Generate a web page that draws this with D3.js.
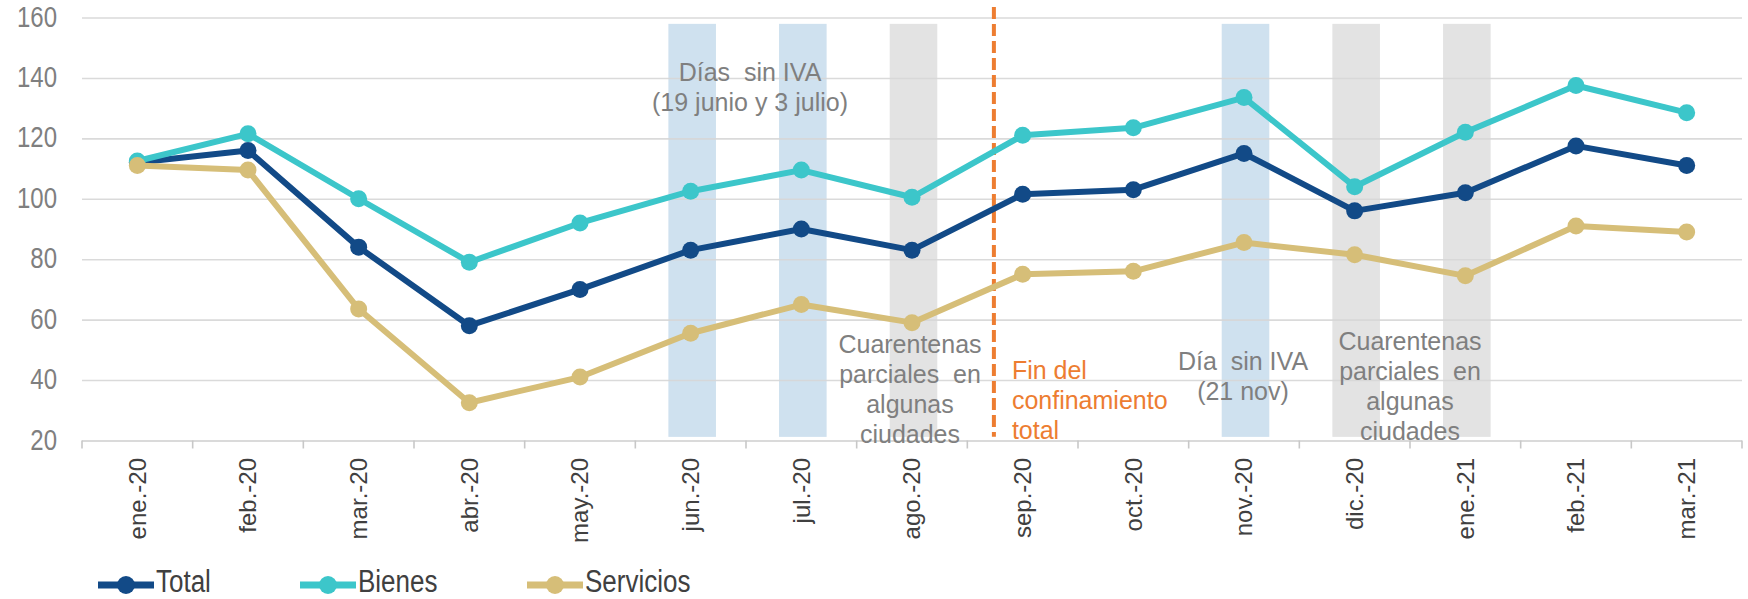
<!DOCTYPE html>
<html>
<head>
<meta charset="utf-8">
<script src="https://cdn.jsdelivr.net/npm/d3@7"></script>
<style>
  html, body { margin: 0; padding: 0; background: #fff; }
  svg { display: block; font-family: "Liberation Sans", Arial, sans-serif; }
</style>
</head>
<body>
<svg id="chart" width="1748" height="599"></svg>
<script>
// ---- data ----
const categories = ["ene.-20","feb.-20","mar.-20","abr.-20","may.-20","jun.-20","jul.-20","ago.-20","sep.-20","oct.-20","nov.-20","dic.-20","ene.-21","feb.-21","mar.-21"];
const total     = [112, 116, 84, 58, 70, 83, 90, 83, 101.5, 103, 115, 96, 102, 117.5, 111];
const bienes    = [112.5, 121.5, 100, 79, 92, 102.5, 109.5, 100.5, 121, 123.5, 133.5, 104, 122, 137.5, 128.5];
const servicios = [111, 109.5, 63.5, 32.5, 41, 55.5, 65, 59, 75, 76, 85.5, 81.5, 74.5, 91, 89];
const yTicks = [20, 40, 60, 80, 100, 120, 140, 160];
const seriesNames = ["Total", "Bienes", "Servicios"];
const blueBands = ["jun.-20", "jul.-20", "nov.-20"];
const greyBands = ["ago.-20", "dic.-20", "ene.-21"];
const bandRange = [21.2, 157.9];
const dividerIndex = 7.74;          // between ago.-20 and sep.-20
const dividerRange = [21.2, 163.5];

(function () {
// ---- style ----
const colors = { "Total": "#124a87", "Bienes": "#3cc6ca", "Servicios": "#d6be78" };
const W = 1748, H = 599;
const mLeft = 82, mRight = 1742, mTop = 17.5, mBottom = 440.5;

const svg = d3.select("#chart");
svg.append("rect").attr("width", W).attr("height", H).attr("fill", "#fff");

const x = d3.scaleBand().domain(categories).range([mLeft, mRight]).padding(0);
const y = d3.scaleLinear().domain([20, 160]).range([mBottom, mTop]);
const cx = c => x(c) + x.bandwidth() / 2;
const xi = i => mLeft + (i + 0.5) * x.step();

// bands
const bw = x.bandwidth() * 0.43;
svg.append("g").selectAll("rect").data(blueBands.map(c => ({c, f: "#cfe1ef"})).concat(greyBands.map(c => ({c, f: "#e3e3e3"}))))
  .join("rect")
  .attr("x", d => cx(d.c) - bw / 2 + 1.5)
  .attr("width", bw)
  .attr("y", y(bandRange[1]))
  .attr("height", y(bandRange[0]) - y(bandRange[1]))
  .attr("fill", d => d.f);

// gridlines + y labels
const yAxis = d3.axisLeft(y).tickValues(yTicks).tickSize(-(mRight - mLeft)).tickFormat(d3.format("d"));
const gy = svg.append("g").attr("transform", `translate(${mLeft},0)`).call(yAxis);
gy.select(".domain").remove();
gy.selectAll(".tick line").attr("stroke", d => d === 20 ? "#c8c8c8" : "#d6d6d6").attr("stroke-width", 1.6).attr("opacity", 0.9);
gy.selectAll(".tick text")
  .attr("x", null).attr("dy", null)
  .attr("fill", "#7f7f7f")
  .attr("font-size", 24)
  .attr("text-anchor", "end")
  .attr("transform", "translate(-25,8.5) scale(1,1.2)");

// x axis: boundary ticks + rotated labels
const boundaries = d3.range(categories.length + 1).map(i => mLeft + i * x.step());
svg.append("g").selectAll("line").data(boundaries).join("line")
  .attr("x1", d => d).attr("x2", d => d)
  .attr("y1", mBottom).attr("y2", mBottom + 8)
  .attr("stroke", "#c8c8c8").attr("stroke-width", 1.6);

const xAxis = d3.axisBottom(x).tickSize(0);
const gx = svg.append("g").attr("transform", `translate(0,${mBottom})`).call(xAxis);
gx.select(".domain").remove();
gx.selectAll(".tick text")
  .attr("y", null)
  .attr("font-size", 24)
  .attr("fill", "#404040")
  .attr("text-anchor", "end")
  .attr("transform", "translate(0,17.5) rotate(-90)")
  .attr("dy", "0.35em");

// orange divider
svg.append("line")
  .attr("x1", xi(dividerIndex)).attr("x2", xi(dividerIndex))
  .attr("y1", y(dividerRange[1])).attr("y2", y(dividerRange[0]))
  .attr("stroke", "#ed7d31").attr("stroke-width", 4)
  .attr("stroke-dasharray", "12,5");

// annotations
const annotations = [
  { lines: ["Días  sin IVA", "(19 junio y 3 julio)"], x: (cx("jun.-20") + cx("jul.-20")) / 2 + 4, y0: 81, anchor: "middle", color: "#7f7f7f" },
  { lines: ["Cuarentenas", "parciales  en", "algunas", "ciudades"], x: cx("ago.-20") - 2, y0: 353, anchor: "middle", color: "#7f7f7f" },
  { lines: ["Fin del", "confinamiento", "total"], x: xi(dividerIndex) + 18, y0: 379, anchor: "start", color: "#ed7d31" },
  { lines: ["Día  sin IVA", "(21 nov)"], x: cx("nov.-20") - 1, y0: 370, anchor: "middle", color: "#7f7f7f" },
  { lines: ["Cuarentenas", "parciales  en", "algunas", "ciudades"], x: (cx("dic.-20") + cx("ene.-21")) / 2, y0: 350, anchor: "middle", color: "#7f7f7f" }
];
const ga = svg.append("g");
annotations.forEach(a => {
  a.lines.forEach((t, i) => {
    ga.append("text")
      .attr("x", a.x).attr("y", a.y0 + i * 30)
      .attr("text-anchor", a.anchor)
      .attr("font-size", 25)
      .attr("fill", a.color)
      .style("white-space", "pre")
      .text(t);
  });
});

// series
const data = [
  { name: "Total", values: total },
  { name: "Bienes", values: bienes },
  { name: "Servicios", values: servicios }
];
const line = d3.line().x((d, i) => cx(categories[i])).y(d => y(d));
const gs = svg.append("g");
data.forEach(s => {
  gs.append("path")
    .attr("d", line(s.values))
    .attr("fill", "none")
    .attr("stroke", colors[s.name])
    .attr("stroke-width", 6)
    .attr("stroke-linejoin", "round");
  gs.append("g").selectAll("circle").data(s.values).join("circle")
    .attr("cx", (d, i) => cx(categories[i]))
    .attr("cy", d => y(d))
    .attr("r", 8.5)
    .attr("fill", colors[s.name]);
});

// legend
const legendX = [98, 300, 527];
const gl = svg.append("g");
seriesNames.forEach((n, i) => {
  const lx = legendX[i], ly = 585;
  gl.append("line").attr("x1", lx).attr("x2", lx + 56).attr("y1", ly).attr("y2", ly)
    .attr("stroke", colors[n]).attr("stroke-width", 7);
  gl.append("circle").attr("cx", lx + 28).attr("cy", ly).attr("r", 9).attr("fill", colors[n]);
  gl.append("text")
    .attr("font-size", 26)
    .attr("fill", "#404040")
    .attr("transform", `translate(${lx + 58},592) scale(1,1.2)`)
    .text(n);
});
})();
</script>
</body>
</html>
